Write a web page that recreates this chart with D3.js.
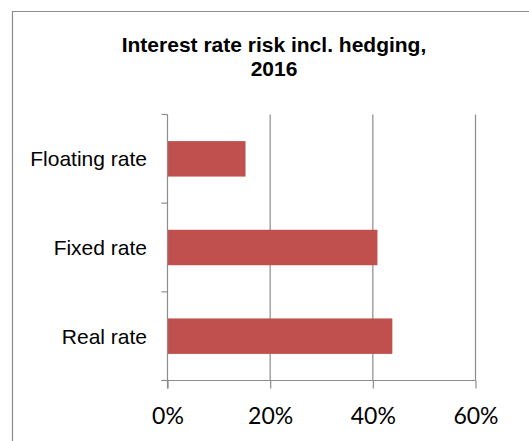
<!DOCTYPE html>
<html>
<head>
<meta charset="utf-8">
<script src="https://cdn.jsdelivr.net/npm/d3@7"></script>
<style>
  html, body { margin: 0; padding: 0; background: #fff; }
  svg { display: block; }
</style>
</head>
<body>
<svg id="chart" width="529" height="441"></svg>
<script>
// Interest rate risk by rate type, share of portfolio (%)
const categories = ["Floating rate", "Fixed rate", "Real rate"];
const values = [15.2, 40.9, 43.8];
const xTicks = [0, 20, 40, 60];
const titleLines = ["Interest rate risk incl. hedging,", "2016"];

const svg = d3.select("#chart");
const W = 529, H = 441;
const plot = { left: 167.5, right: 475.5, top: 114.5, bottom: 380.5 };
const gridColor = "#8c8c8c";

// outer chart frame (continues past the right and bottom edges)
svg.append("path")
  .attr("d", `M12.5,${H + 2} V11.5 H${W + 2}`)
  .attr("fill", "none")
  .attr("stroke", gridColor)
  .attr("stroke-width", 1.2);

// title
const title = svg.append("text")
  .attr("text-anchor", "middle")
  .attr("font-family", "'Liberation Sans', Arial, sans-serif")
  .attr("font-weight", "bold")
  .attr("font-size", 21)
  .attr("fill", "#000");
titleLines.forEach((t, i) => {
  title.append("tspan").attr("x", 274).attr("y", 52 + i * 24).text(t);
});

const x = d3.scaleLinear().domain([0, 60]).range([plot.left, plot.right]);
const y = d3.scaleBand().domain(categories)
  .range([plot.top, plot.bottom])
  .paddingInner(0.6).paddingOuter(0.3);

// vertical gridlines
svg.append("g").selectAll("line")
  .data(xTicks.slice(1))
  .join("line")
  .attr("x1", d => x(d)).attr("x2", d => x(d))
  .attr("y1", plot.top).attr("y2", plot.bottom)
  .attr("stroke", gridColor).attr("stroke-width", 1.2);

// bars
svg.append("g").selectAll("rect")
  .data(categories)
  .join("rect")
  .attr("x", x(0))
  .attr("y", c => y(c))
  .attr("width", (c, i) => x(values[i]) - x(0))
  .attr("height", y.bandwidth())
  .attr("fill", "#c0504d");

// x axis
const xAxis = svg.append("g")
  .attr("transform", `translate(0,${plot.bottom})`)
  .call(d3.axisBottom(x).tickValues(xTicks).tickFormat(d => d + "%").tickSize(8).tickPadding(19).tickSizeOuter(0));
xAxis.select(".domain").remove();
xAxis.append("line")
  .attr("x1", plot.left - 6).attr("x2", plot.right)
  .attr("stroke", gridColor).attr("stroke-width", 1.2);
xAxis.selectAll(".tick line").attr("stroke", gridColor).attr("stroke-width", 1.2);
xAxis.selectAll(".tick text")
  .attr("font-family", "Lato, 'Open Sans', sans-serif")
  .attr("font-size", 23)
  .attr("fill", "#000");

// y axis: category boundaries as ticks, labels centred on each band
const bounds = d3.range(categories.length + 1).map(i => plot.top + i * y.step());
const yAxis = svg.append("g");
yAxis.append("line")
  .attr("x1", plot.left).attr("x2", plot.left)
  .attr("y1", plot.top).attr("y2", plot.bottom + 8)
  .attr("stroke", gridColor).attr("stroke-width", 1.2);
yAxis.selectAll("line.bound")
  .data(bounds)
  .join("line")
  .attr("class", "bound")
  .attr("x1", plot.left - 6).attr("x2", plot.left)
  .attr("y1", d => d).attr("y2", d => d)
  .attr("stroke", gridColor).attr("stroke-width", 1.2);
yAxis.selectAll("text")
  .data(categories)
  .join("text")
  .attr("x", 147)
  .attr("y", c => y(c) + y.bandwidth() / 2)
  .attr("dy", "0.35em")
  .attr("text-anchor", "end")
  .attr("font-family", "'Liberation Sans', Arial, sans-serif")
  .attr("font-size", 21)
  .attr("fill", "#000")
  .text(c => c);
</script>
</body>
</html>
